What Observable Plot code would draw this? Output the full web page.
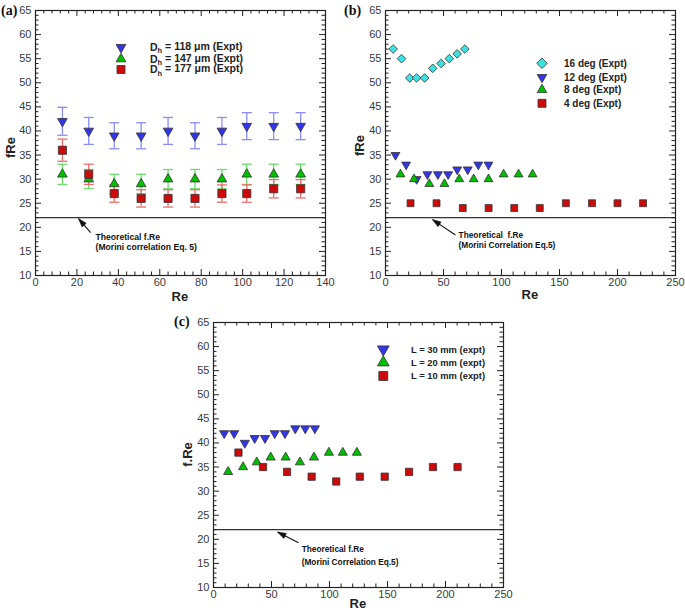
<!DOCTYPE html>
<html><head>
<meta charset="utf-8">
<script src="https://cdn.jsdelivr.net/npm/d3@7"></script>
<script src="https://cdn.jsdelivr.net/npm/@observablehq/plot@0.6"></script>
<style>
body{margin:0;background:#fff;font-family:"Liberation Sans",Arial,Helvetica,sans-serif;}
#wrap{position:relative;width:685px;height:612px;overflow:hidden;}
.tag{position:absolute;font-family:"Liberation Serif","DejaVu Serif",serif;font-weight:bold;font-size:14px;color:#111;line-height:1;}
.atitle{position:absolute;font-weight:bold;font-size:13px;color:#222;line-height:1;white-space:nowrap;}
</style>
</head><body><div id="wrap"></div>
<script>
// ---------- Data ----------
const fReTheory = 22;

// Panel (a): hydraulic diameter
const reA = [13, 25.7, 38, 51, 64, 77, 90, 102, 115, 128];
const fRe118 = [42, 40, 39, 39, 40, 39, 40, 41, 41, 41];
const err118 = [2.9, 2.8, 2.7, 2.7, 2.8, 2.7, 2.8, 2.8, 2.8, 2.8];
const fRe147 = [31, 30, 29, 29, 30, 30, 30, 31, 31, 31];
const err147 = [2.1, 2.0, 2.0, 2.0, 2.0, 2.0, 2.0, 2.1, 2.1, 2.1];
const fRe177 = [36, 31, 27, 26, 26, 26, 27, 27, 28, 28];
const err177 = [2.3, 2.1, 1.8, 1.8, 1.8, 1.8, 1.8, 1.8, 1.9, 1.9];

// Panel (b): divergence angle
const re16 = [6.6, 13.8, 20.9, 26.8, 33.7, 40.7, 47.9, 55, 61.8, 68.4];
const fRe16 = [57, 55, 51, 51, 51, 53, 54, 55, 56, 57];
const re12 = [8.6, 17.8, 26.8, 36.1, 45.2, 54, 61.8, 70.9, 80, 88.8];
const fRe12 = [35, 33, 30, 31, 31, 31, 32, 32, 33, 33];
const re8 = [12.9, 24.6, 37.8, 50.8, 63.6, 76, 88.8, 101.8, 114.7, 126.8];
const fRe8 = [31, 30, 29, 29, 30, 30, 30, 31, 31, 31];
const re4 = [21.6, 44, 66.6, 88.9, 111, 133, 155.5, 178, 200, 222];
const fRe4 = [25, 25, 24, 24, 24, 24, 25, 25, 25, 25];

// Panel (c): length
const re30 = [9.2, 17.8, 27, 35.5, 44.4, 52.8, 61.6, 70.5, 79.1, 87.4];
const fRe30 = [42, 42, 40, 41, 41, 42, 42, 43, 43, 43];
const re20 = [12.6, 25.5, 37.3, 49.3, 62.2, 74.5, 86.6, 99.5, 111.5, 123.6];
const fRe20 = [34, 35, 36, 37, 37, 36, 37, 38, 38, 38];
const re10 = [21.5, 42.7, 63.4, 84.6, 105.8, 126.1, 147.6, 168.6, 189.2, 210.4];
const fRe10 = [38, 35, 34, 33, 32, 33, 33, 34, 35, 35];

// Tick labels
const yTicks = [10, 15, 20, 25, 30, 35, 40, 45, 50, 55, 60, 65];
const xTicksA = [0, 20, 40, 60, 80, 100, 120, 140];
const xTicksBC = [0, 50, 100, 150, 200, 250];

// Text
const legendA = ["118", "147", "177"];
const legendB = ["16 deg (Expt)", "12 deg (Expt)", "8 deg (Expt)", "4 deg (Expt)"];
const legendC = ["L = 30 mm (expt)", "L = 20 mm (expt)", "L = 10 mm (expt)"];
const noteA = "Theoretical f.Re\n(Morini correlation Eq. 5)";
const noteB = "Theoretical  f.Re\n(Morini Correlation Eq.5)";
const noteC = "Theoretical f.Re\n(Morini Correlation Eq.5)";

// ---------- Styling ----------
const BLUE = "#3434e8", GREEN = "#00bf00", RED = "#cc0a0a", CYAN = "#3ee0e0";
const EBLUE = "#8c8cff", EGREEN = "#6cdc6c", ERED = "#ec6c6c";

const capSymbol = {draw(ctx, size) { const h = Math.sqrt(size / Math.PI); ctx.moveTo(-h, 0); ctx.lineTo(h, 0); }};
const headSymbol = {draw(ctx) { ctx.moveTo(0, 0); ctx.lineTo(-2.8, 8.5); ctx.lineTo(2.8, 8.5); ctx.closePath(); }};

const wrap = document.getElementById("wrap");
function place(node, left, top) {
  node.style.position = "absolute";
  node.style.left = left + "px";
  node.style.top = top + "px";
  wrap.appendChild(node);
  return node;
}

function makePanel(cfg) {
  const m = cfg.margin;
  const pw = cfg.width - m.l - m.r, ph = cfg.height - m.t - m.b;
  const xMinor = d3.range(cfg.xDomain[0], cfg.xDomain[1] + 1e-9, cfg.xMinorStep).filter(v => !cfg.xTicks.includes(v));
  const yMinor = d3.range(10, 65.0001, 1).filter(v => !yTicks.includes(v));
  const tk = "#222";
  const marks = [
    Plot.ruleY([fReTheory], {stroke: "#333", strokeWidth: 1.3}),
    // inward ticks on all four sides
    Plot.tickX(cfg.xTicks, {x: d => d, insetTop: ph - 6, stroke: tk}),
    Plot.tickX(cfg.xTicks, {x: d => d, insetBottom: ph - 6, stroke: tk}),
    Plot.tickX(xMinor, {x: d => d, insetTop: ph - 3.5, stroke: tk}),
    Plot.tickX(xMinor, {x: d => d, insetBottom: ph - 3.5, stroke: tk}),
    Plot.tickY(yTicks, {y: d => d, insetRight: pw - 6, stroke: tk}),
    Plot.tickY(yTicks, {y: d => d, insetLeft: pw - 6, stroke: tk}),
    Plot.tickY(yMinor, {y: d => d, insetRight: pw - 3.5, stroke: tk}),
    Plot.tickY(yMinor, {y: d => d, insetLeft: pw - 3.5, stroke: tk}),
    Plot.axisX(cfg.xTicks, {anchor: "bottom", tickSize: 0, tickPadding: 3, label: null, fontSize: 11}),
    Plot.axisY(yTicks, {anchor: "left", tickSize: 0, tickPadding: 4, label: null, fontSize: 11}),
    Plot.frame({stroke: "#222", strokeWidth: 1.2})
  ];
  // error bars
  for (const s of cfg.series) {
    if (!s.err) continue;
    const data = s.x.map((x, i) => ({x, y: s.y[i], e: s.err[i]}));
    marks.push(Plot.ruleX(data, {x: "x", y1: d => d.y - d.e, y2: d => d.y + d.e, stroke: s.errColor, strokeWidth: 1.3}));
    marks.push(Plot.dot(data, {x: "x", y: d => d.y + d.e, symbol: capSymbol, r: 5, stroke: s.errColor, strokeWidth: 1.3, fill: "none"}));
    marks.push(Plot.dot(data, {x: "x", y: d => d.y - d.e, symbol: capSymbol, r: 5, stroke: s.errColor, strokeWidth: 1.3, fill: "none"}));
  }
  for (const s of cfg.series) {
    const data = s.x.map((x, i) => ({x, y: s.y[i]}));
    marks.push(Plot.dot(data, {x: "x", y: "y", symbol: s.symbol, rotate: s.rotate || 0, r: s.r, fill: s.color, stroke: "#333", strokeWidth: 0.8}));
  }
  // annotation: arrow with filled head, then text
  const n = cfg.note;
  const kx = pw / (cfg.xDomain[1] - cfg.xDomain[0]), ky = ph / 55;
  const ang = Math.atan2((n.tipX - n.tailX) * kx, (n.tipY - n.tailY) * ky) * 180 / Math.PI;
  marks.push(Plot.link([n], {x1: "tailX", y1: "tailY", x2: "tipX", y2: "tipY", stroke: "#111", strokeWidth: 1.1}));
  marks.push(Plot.dot([n], {x: "tipX", y: "tipY", symbol: headSymbol, rotate: ang, fill: "#111", stroke: "#111", strokeWidth: 0.5}));
  marks.push(Plot.text([n], {x: "textX", y: "textY", text: "text", textAnchor: "start", lineAnchor: "top", fontSize: n.fontSize, fontWeight: "bold", lineHeight: n.lineHeight, fill: "#111"}));

  const svg = Plot.plot({
    width: cfg.width, height: cfg.height,
    marginLeft: m.l, marginRight: m.r, marginTop: m.t, marginBottom: m.b,
    x: {domain: cfg.xDomain},
    y: {domain: [10, 65]},
    style: {fontFamily: "'Liberation Sans', Arial, sans-serif", color: "#3a3a3a", background: "transparent", overflow: "visible"},
    marks
  });
  return place(svg, cfg.left, cfg.top);
}

// Panel (a)
makePanel({
  left: 0, top: 0, width: 340, height: 305, margin: {t: 10, r: 15, b: 30, l: 35},
  xDomain: [0, 140], xTicks: xTicksA, xMinorStep: 4,
  series: [
    {x: reA, y: fRe118, err: err118, errColor: EBLUE, color: BLUE, symbol: "triangle", rotate: 180, r: 3.6},
    {x: reA, y: fRe147, err: err147, errColor: EGREEN, color: GREEN, symbol: "triangle", r: 3.6},
    {x: reA, y: fRe177, err: err177, errColor: ERED, color: RED, symbol: "square", r: 4.6}
  ],
  note: {tipX: 20.8, tipY: 21.8, tailX: 26.6, tailY: 18.9, textX: 29, textY: 18.7, text: noteA, fontSize: 8.6, lineHeight: 1.1}
});

// Panel (b)
makePanel({
  left: 340, top: 0, width: 345, height: 305, margin: {t: 10, r: 10, b: 30, l: 45},
  xDomain: [0, 250], xTicks: xTicksBC, xMinorStep: 10,
  series: [
    {x: re16, y: fRe16, color: CYAN, symbol: "diamond2", r: 3.9},
    {x: re12, y: fRe12, color: BLUE, symbol: "triangle", rotate: 180, r: 3.3},
    {x: re8, y: fRe8, color: GREEN, symbol: "triangle", r: 3.3},
    {x: re4, y: fRe4, color: RED, symbol: "square", r: 3.9}
  ],
  note: {tipX: 40.5, tipY: 21.6, tailX: 60.3, tailY: 18.4, textX: 63, textY: 19.3, text: noteB, fontSize: 8.3, lineHeight: 1.25}
});

// Panel (c)
makePanel({
  left: 170, top: 310, width: 340, height: 302, margin: {t: 12, r: 7, b: 25, l: 43},
  xDomain: [0, 250], xTicks: xTicksBC, xMinorStep: 10,
  series: [
    {x: re30, y: fRe30, color: BLUE, symbol: "triangle", rotate: 180, r: 3.4},
    {x: re20, y: fRe20, color: GREEN, symbol: "triangle", r: 3.4},
    {x: re10, y: fRe10, color: RED, symbol: "square", r: 4.1}
  ],
  note: {tipX: 55.2, tipY: 21.5, tailX: 73.3, tailY: 19.3, textX: 76, textY: 19.4, text: noteC, fontSize: 8.3, lineHeight: 1.6}
});

// ---------- HTML labels ----------
function label(cls, text, left, top) {
  const d = document.createElement("div");
  d.className = cls;
  d.textContent = text;
  place(d, left, top);
  return d;
}
label("tag", "(a)", 1, 4);
label("tag", "(b)", 344, 4);
label("tag", "(c)", 174, 315);
function centered(cls, text, cx, cy, rotate) {
  const d = label(cls, text, 0, 0);
  const w = d.offsetWidth, h = d.offsetHeight;
  d.style.left = (cx - w / 2) + "px"; d.style.top = (cy - h / 2) + "px";
  if (rotate) { d.style.transformOrigin = "50% 50%"; d.style.transform = "rotate(-90deg)"; }
}
centered("atitle", "Re", 180, 296);
centered("atitle", "Re", 530, 294);
centered("atitle", "Re", 358, 603);
centered("atitle", "fRe", 10, 147, true);
centered("atitle", "fRe", 359, 145, true);
centered("atitle", "f.Re", 187, 454, true);

// ---------- Legends ----------
const lg = d3.create("svg").attr("width", 685).attr("height", 612)
  .style("position", "absolute").style("left", "0px").style("top", "0px").style("pointer-events", "none")
  .attr("font-family", "'Liberation Sans', Arial, sans-serif").attr("font-weight", "bold").attr("fill", "#222");
function sym(x, y, type, size, color, down) {
  lg.append("path").attr("d", d3.symbol(type, size)())
    .attr("transform", `translate(${x},${y})` + (down ? " rotate(180)" : ""))
    .attr("fill", color).attr("stroke", "#333").attr("stroke-width", 0.8);
}
// (a)
const aSyms = [[d3.symbolTriangle, 42, BLUE, true], [d3.symbolTriangle, 42, GREEN, false], [d3.symbolSquare, 64, RED, false]];
[47.3, 59, 69.5].forEach((y, i) => {
  const [t, s, c, dn] = aSyms[i];
  sym(121, y, t, s, c, dn);
  const tx = lg.append("text").attr("x", 150).attr("y", y).attr("dy", "0.36em").attr("font-size", 10.5);
  tx.append("tspan").text("D");
  tx.append("tspan").attr("font-size", 7.5).attr("dy", "0.3em").text("h");
  tx.append("tspan").attr("dy", "-0.3em").text(` = ${legendA[i]} μm (Expt)`);
});
// (b)
const bSyms = [[d3.symbolDiamond2, 70, CYAN, false], [d3.symbolTriangle, 40, BLUE, true], [d3.symbolTriangle, 40, GREEN, false], [d3.symbolSquare, 64, RED, false]];
[63.3, 77.3, 89.8, 103.3].forEach((y, i) => {
  const [t, s, c, dn] = bSyms[i];
  sym(542, y, t, s, c, dn);
  lg.append("text").attr("x", 564).attr("y", y).attr("dy", "0.36em").attr("font-size", 10).text(legendB[i]);
});
// (c)
const cSyms = [[d3.symbolTriangle, 60, BLUE, true], [d3.symbolTriangle, 60, GREEN, false], [d3.symbolSquare, 80, RED, false]];
[349.3, 362.5, 376].forEach((y, i) => {
  const [t, s, c, dn] = cSyms[i];
  sym(383.3, y, t, s, c, dn);
  lg.append("text").attr("x", 411).attr("y", y).attr("dy", "0.36em").attr("font-size", 9.4).text(legendC[i]);
});
wrap.appendChild(lg.node());
</script>
</body></html>
